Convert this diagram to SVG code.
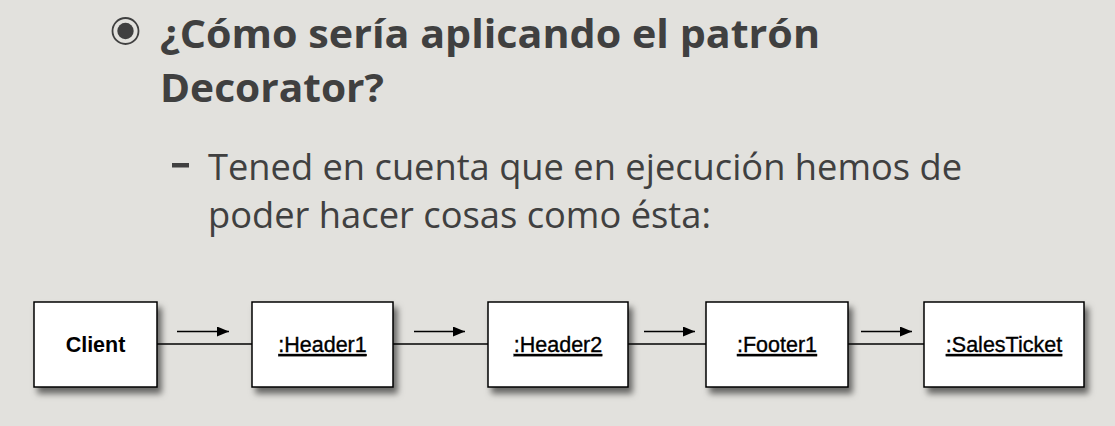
<svg xmlns="http://www.w3.org/2000/svg" width="1115" height="426" viewBox="0 0 1115 426">
<defs>
<style>
.title{font-family:"Open Sans","Noto Sans",sans-serif;font-weight:bold;font-size:39px;fill:#404040}
.sub{font-family:"Open Sans","Noto Sans",sans-serif;font-size:37px;fill:#404040}
.box{fill:#ffffff;stroke:#000000;stroke-width:1.5}
.lbl{font-family:"Liberation Sans",Arial,sans-serif;font-size:21.5px;fill:#000000;text-anchor:middle;stroke:#000000;stroke-width:0.35}
.bold{font-weight:bold;font-size:21.5px;stroke-width:0}
.u{text-decoration:underline}
.link{stroke:#000000;stroke-width:1.3;fill:none}
.dir{stroke:#000000;stroke-width:1.3;fill:none;marker-end:url(#ah)}
</style>
<filter id="sh" x="-10%" y="-10%" width="130%" height="140%">
<feDropShadow dx="4" dy="6" stdDeviation="3" flood-color="#000000" flood-opacity="0.55"/>
</filter>
<marker id="ah" markerWidth="12" markerHeight="10" refX="12" refY="5" orient="auto" markerUnits="userSpaceOnUse">
<path d="M0,0 L12,5 L0,10 Z" fill="#000000"/>
</marker>
</defs>
<rect x="0" y="0" width="1115" height="426" fill="#e2e1dd"/>
<g id="heading">
<circle cx="125.5" cy="31" r="13" fill="none" stroke="#404040" stroke-width="1.8"/>
<circle cx="125.5" cy="31" r="8.2" fill="#404040"/>
<text class="title" x="160" y="48" textLength="660" lengthAdjust="spacingAndGlyphs">¿Cómo sería aplicando el patrón</text>
<text class="title" x="160" y="102" textLength="224" lengthAdjust="spacingAndGlyphs">Decorator?</text>
<rect x="172" y="163" width="17" height="4.5" fill="#404040"/>
<text class="sub" x="208" y="180" textLength="754" lengthAdjust="spacingAndGlyphs">Tened en cuenta que en ejecución hemos de</text>
<text class="sub" x="208" y="228" textLength="503" lengthAdjust="spacingAndGlyphs">poder hacer cosas como ésta:</text>
</g>
<g id="connectors">
<line class="link" x1="157" y1="344" x2="252" y2="344"/>
<line class="link" x1="393" y1="344" x2="488" y2="344"/>
<line class="link" x1="628" y1="344" x2="706" y2="344"/>
<line class="link" x1="848" y1="344" x2="924" y2="344"/>
<line class="dir" x1="177" y1="331.5" x2="229" y2="331.5"/>
<line class="dir" x1="414" y1="331.5" x2="465" y2="331.5"/>
<line class="dir" x1="644" y1="331.5" x2="695" y2="331.5"/>
<line class="dir" x1="861" y1="331.5" x2="912" y2="331.5"/>
</g>
<g id="client">
<rect class="box" x="34" y="302" width="123" height="85" filter="url(#sh)"/>
<text class="lbl bold" x="95.5" y="352">Client</text>
</g>
<g id="header1">
<rect class="box" x="252" y="302" width="141" height="85" filter="url(#sh)"/>
<text class="lbl u" x="322.5" y="352">:Header1</text>
</g>
<g id="header2">
<rect class="box" x="488" y="302" width="140" height="85" filter="url(#sh)"/>
<text class="lbl u" x="558" y="352">:Header2</text>
</g>
<g id="footer1">
<rect class="box" x="706" y="302" width="142" height="85" filter="url(#sh)"/>
<text class="lbl u" x="777" y="352">:Footer1</text>
</g>
<g id="salesticket">
<rect class="box" x="924" y="302" width="160" height="85" filter="url(#sh)"/>
<text class="lbl u" x="1004" y="352">:SalesTicket</text>
</g>
</svg>
